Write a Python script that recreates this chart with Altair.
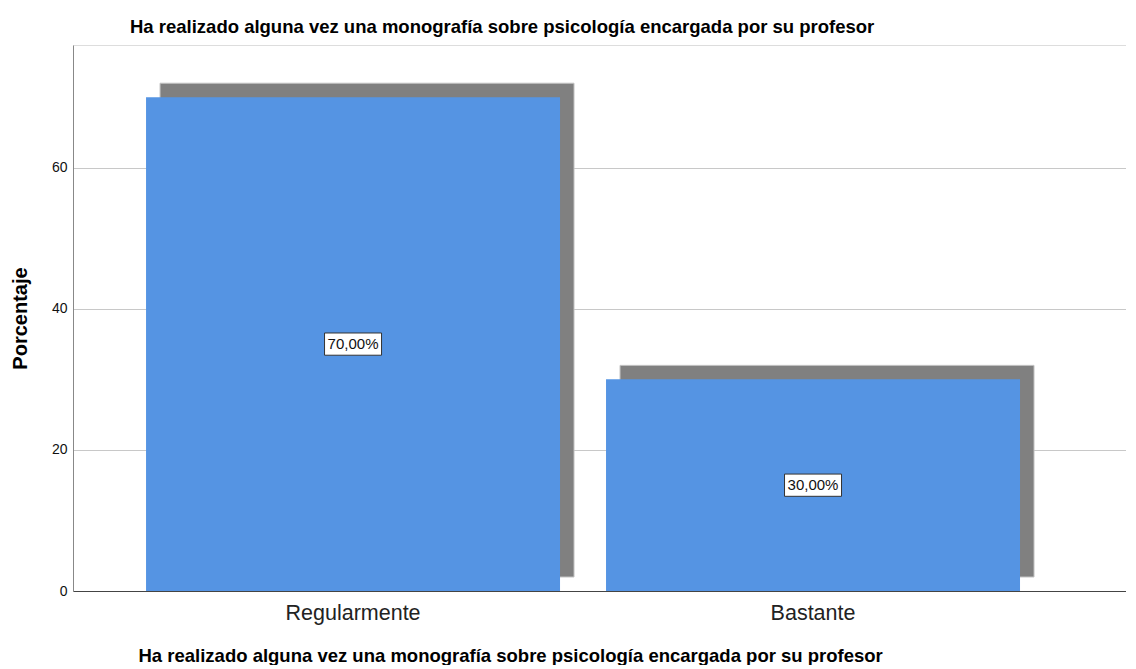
import altair as alt
import pandas as pd

categories = ["Regularmente", "Bastante"]
values = [70.0, 30.0]
value_labels = ["70,00%", "30,00%"]
y_ticks = [0, 20, 40, 60]

title_text = "Ha realizado alguna vez una monografía sobre psicología encargada por su profesor"

df = pd.DataFrame({"cat": categories, "pct": values, "label": value_labels})

FONT = "Liberation Sans"

x_scale = alt.Scale(paddingInner=0.1, paddingOuter=0.1946, align=0.408)

x_enc = alt.X(
    "cat:N",
    sort=categories,
    scale=x_scale,
    axis=alt.Axis(
        title=title_text,
        labelAngle=0,
        labelFont=FONT,
        labelFontSize=21.5,
        labelColor="#222222",
        labelPadding=11,
        ticks=False,
        domainColor="#444444",
        domainWidth=1,
        titleFont=FONT,
        titleFontSize=18.5,
        titleFontWeight="bold",
        titleColor="#000000",
        titleAlign="left",
        titleBaseline="middle",
        titleX=65,
        titleY=64,
    ),
)

y_enc = alt.Y(
    "pct:Q",
    scale=alt.Scale(domain=[0, 77.4], nice=False, zero=True),
    axis=alt.Axis(
        title="Porcentaje",
        values=y_ticks,
        grid=True,
        gridColor="#c8c8c8",
        gridWidth=1,
        ticks=False,
        labelPadding=6,
        labelFont=FONT,
        labelFontSize=14,
        labelColor="#111111",
        domainColor="#888888",
        domainWidth=1,
        titleFont=FONT,
        titleFontSize=20,
        titleFontWeight="bold",
        titleColor="#000000",
        titlePadding=21,
    ),
)

base = alt.Chart(df)

shadow = base.mark_bar(
    color="#808080",
    stroke="#c4c4c4",
    strokeWidth=1,
    xOffset=14,
    x2Offset=14,
    yOffset=-14,
    y2Offset=-14,
).encode(x=x_enc, y=y_enc)

bars = base.mark_bar(color="#5594E3").encode(x=x_enc, y=y_enc)

mid = base.transform_calculate(mid="datum.pct / 2")

box = mid.mark_point(
    shape="M-1,-0.39L1,-0.39L1,0.39L-1,0.39Z",
    size=57 * 57,
    filled=False,
    fill="#ffffff",
    fillOpacity=1,
    stroke="#333333",
    strokeWidth=1,
    opacity=1,
).encode(x=alt.X("cat:N", sort=categories), y=alt.Y("mid:Q"))

txt = mid.mark_text(
    font=FONT, fontSize=15, color="#111111", baseline="middle", align="center"
).encode(x=alt.X("cat:N", sort=categories), y=alt.Y("mid:Q"), text="label:N")

chart = (
    alt.layer(shadow, bars, box, txt)
    .properties(
        width=1053,
        height=546,
        title=alt.Title(
            title_text,
            anchor="start",
            frame="group",
            dx=57,
            font=FONT,
            fontSize=18.5,
            fontWeight="bold",
            color="#000000",
            offset=9,
        ),
        padding={"left": 2, "top": 9, "right": 0, "bottom": 0},
    )
    .configure_view(stroke=None)
    .configure(background="#ffffff")
)

chart.save("out.html", embed_options={"renderer": "svg", "actions": False})
